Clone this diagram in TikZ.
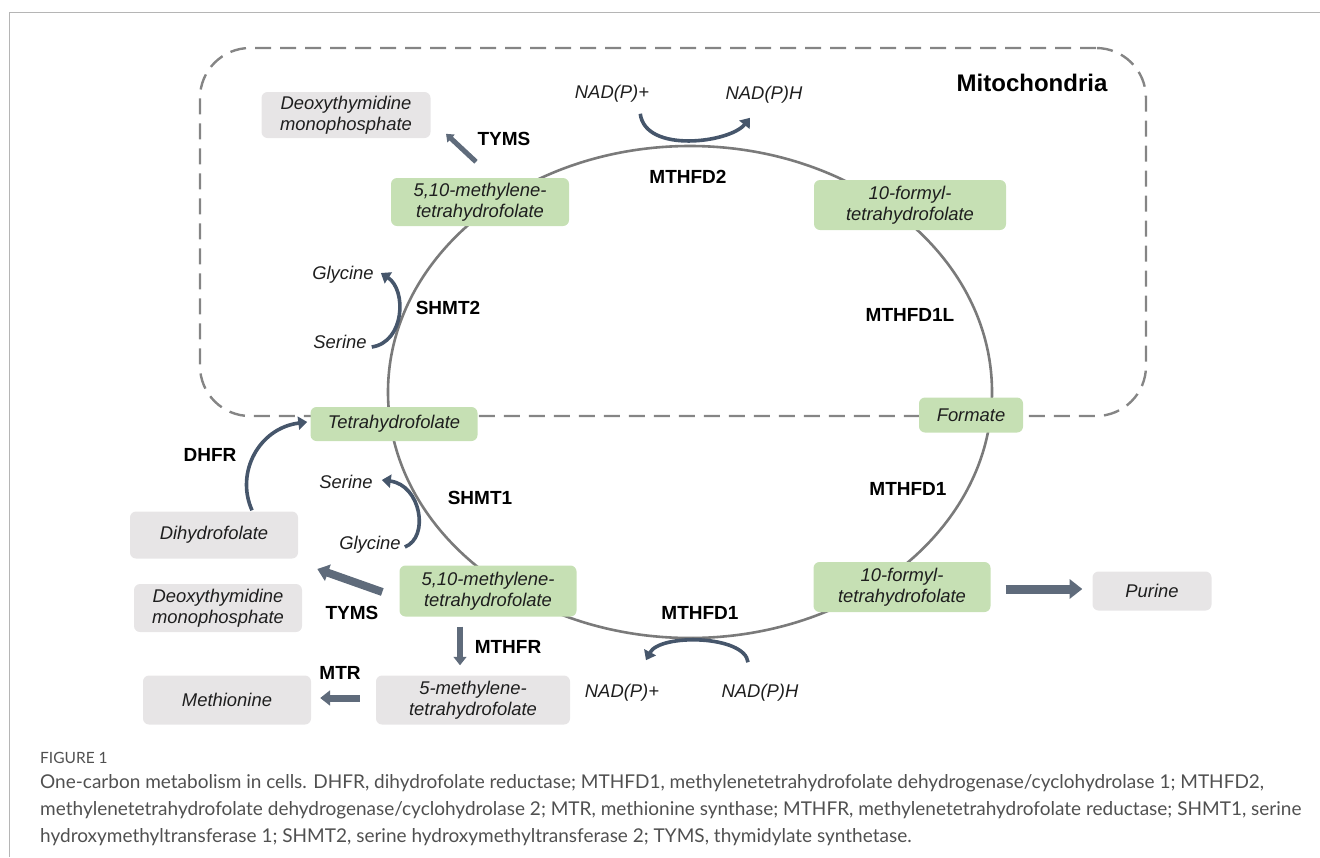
\documentclass[tikz,border=0pt]{standalone}
\usepackage{fontspec}
\setmainfont{Liberation Sans}
\newfontfamily\capfont{Lato}
\usetikzlibrary{arrows.meta,calc,positioning}
\definecolor{Ink}{HTML}{1E1E1E}
\definecolor{Leaf}{HTML}{C6E0B4}
\definecolor{Fog}{HTML}{E7E5E6}
\definecolor{Ring}{HTML}{7A7A7A}
\definecolor{DashGray}{HTML}{858585}
\definecolor{Slate}{HTML}{5F6B7B}
\definecolor{Navy}{HTML}{46566B}
\definecolor{FrameGray}{HTML}{B5B5B5}
\definecolor{CapGray}{HTML}{505050}
\tikzset{
  box/.style={
    rounded corners=6pt, inner sep=0pt, align=center, text=Ink,
    font=\itshape\fontsize{18.4}{20.5}\selectfont
  },
  leafbox/.style={box, fill=Leaf},
  fogbox/.style={box, fill=Fog},
  metab/.style={inner sep=0pt, text=Ink, font=\itshape\fontsize{18.4}{20.5}\selectfont},
  enzyme/.style={inner sep=0pt, font=\bfseries\fontsize{19}{21}\selectfont},
  ring/.style={draw=Ring, line width=2.6pt},
  mitobox/.style={
    draw=DashGray, line width=2.4pt, dash pattern=on 16pt off 9pt,
    rounded corners=50pt, inner sep=0pt,
    minimum width=946pt, minimum height=368pt
  },
  blockflow/.style={draw=Slate, line width=#1, -{Triangle[length=0pt 1.4, width=0pt 2.1]}},
  cofflow/.style={draw=Navy, line width=3.6pt, -{Triangle[length=9pt, width=13pt]}},
  frameline/.style={draw=FrameGray, line width=1.5pt}
}

\begin{document}
\begin{tikzpicture}[x=1pt,y=-1pt]
  \useasboundingbox (0,0) rectangle (1320,857);
  \draw[frameline] (9.5,857) -- (9.5,12.5) -- (1320,12.5);

  % mitochondria and the folate cycle
  \node[mitobox] (mito) at (673,232) {};
  \node[inner sep=0pt, font=\bfseries\fontsize{24}{26}\selectfont] (mitolbl) at (1032,83) {Mitochondria};
  \coordinate (hub) at (690,392);
  \draw[ring] (hub) ellipse [x radius=302pt, y radius=246pt];

  % metabolites
  \node[fogbox, minimum width=169pt, minimum height=46pt] (dtmpup) at (346,115) {Deoxythymidine\\monophosphate};
  \node[leafbox, minimum width=178pt, minimum height=48pt] (mthfup) at (480,202) {5,10-methylene-\\tetrahydrofolate};
  \node[leafbox, minimum width=192pt, minimum height=50pt] (fthfup) at (910,205) {10-formyl-\\tetrahydrofolate};
  \node[leafbox, minimum width=104pt, minimum height=35pt] (formate) at (971,415) {Formate};
  \node[leafbox, minimum width=167pt, minimum height=34pt] (thf) at (394,424) {Tetrahydrofolate};
  \node[fogbox, minimum width=168pt, minimum height=47pt] (dhf) at (214,535) {Dihydrofolate};
  \node[leafbox, minimum width=177pt, minimum height=51pt] (mthflo) at (488,591) {5,10-methylene-\\tetrahydrofolate};
  \node[fogbox, minimum width=168pt, minimum height=48pt] (dtmplo) at (218,608) {Deoxythymidine\\monophosphate};
  \node[leafbox, minimum width=177pt, minimum height=50pt] (fthflo) at (902,587) {10-formyl-\\tetrahydrofolate};
  \node[fogbox, minimum width=119pt, minimum height=39pt] (purine) at (1152,591) {Purine};
  \node[fogbox, minimum width=168pt, minimum height=49pt] (meth) at (227,700) {Methionine};
  \node[fogbox, minimum width=194pt, minimum height=49pt] (mthf) at (473,700) {5-methylene-\\tetrahydrofolate};

  % co-substrates
  \node[metab] (nadpup) at (612,94) {NAD(P)+};
  \node[metab] (nadhup) at (764,95) {NAD(P)H};
  \node[metab] (glyup) at (343,275) {Glycine};
  \node[metab] (serup) at (340,342) {Serine};
  \node[metab] (serlo) at (346,482) {Serine};
  \node[metab] (glylo) at (370,545) {Glycine};
  \node[metab] (nadplo) at (622,693) {NAD(P)+};
  \node[metab] (nadhlo) at (760,693) {NAD(P)H};

  % enzymes
  \node[enzyme] (mthfd2) at (688,177) {MTHFD2};
  \node[enzyme] (tymsup) at (504,139) {TYMS};
  \node[enzyme] (shmt2) at (448,308) {SHMT2};
  \node[enzyme] (mthfd1l) at (910,315) {MTHFD1L};
  \node[enzyme] (dhfr) at (210,455) {DHFR};
  \node[enzyme] (shmt1) at (480,498) {SHMT1};
  \node[enzyme] (mthfd1a) at (908,489) {MTHFD1};
  \node[enzyme] (tymslo) at (352,613) {TYMS};
  \node[enzyme] (mthfr) at (508,647) {MTHFR};
  \node[enzyme] (mtr) at (340,673) {MTR};
  \node[enzyme] (mthfd1b) at (700,613) {MTHFD1};

  % block arrows
  \draw[blockflow=5pt] ([shift={(-4,-16)}]mthfup.north) -- ++(-30,-28);
  \draw[blockflow=8pt] ([shift={(-17,1)}]mthflo.west) -- ++(-65,-23);
  \draw[blockflow=6pt] ([shift={(-28,10)}]mthflo.south) -- ([shift={(-13,-10)}]mthf.north);
  \draw[blockflow=7pt] ([shift={(-16,-2)}]mthf.west) -- ([shift={(9,-2)}]meth.east);
  \draw[blockflow=9pt] ([shift={(15,2)}]fthflo.east) -- ([shift={(-10,-2)}]purine.west);

  % curved side reactions
  \draw[cofflow] ([shift={(-9,11)}]nadpup.south east) .. controls +(5,40) and +(-20,25) .. ([shift={(-14,14)}]nadhup.south);
  \draw[cofflow] ([shift={(-12,-22)}]nadhlo.north) .. controls +(-3,-27) and +(14,-27) .. ([shift={(24,-24)}]nadplo.north);
  \draw[cofflow] ([shift={(5,5)}]serup.east) .. controls +(33,-5) and +(26,17) .. ([shift={(7,-2)}]glyup.east);
  \draw[cofflow] ([shift={(4,2)}]glylo.east) .. controls +(25,-10) and +(39,5) .. ([shift={(9,-2)}]serlo.east);
  \draw[cofflow] ([shift={(38,-1)}]dhf.north) .. controls +(-17,-38) and +(-48,6) .. ([shift={(-3,-2)}]thf.west);

  % caption
  \node[anchor=base west, inner sep=0pt, text=CapGray, font=\capfont\fontsize{15.5}{17}\selectfont] (figno) at (40,763) {FIGURE 1};
  \node[anchor=base west, inner sep=0pt, align=left, text=CapGray, font=\capfont\fontsize{19}{26.8}\selectfont] (caption) at (40,842)
    {One-carbon metabolism in cells. DHFR, dihydrofolate reductase; MTHFD1, methylenetetrahydrofolate dehydrogenase/cyclohydrolase 1; MTHFD2,\\
     methylenetetrahydrofolate dehydrogenase/cyclohydrolase 2; MTR, methionine synthase; MTHFR, methylenetetrahydrofolate reductase; SHMT1, serine\\
     hydroxymethyltransferase 1; SHMT2, serine hydroxymethyltransferase 2; TYMS, thymidylate synthetase.};
\end{tikzpicture}
\end{document}
